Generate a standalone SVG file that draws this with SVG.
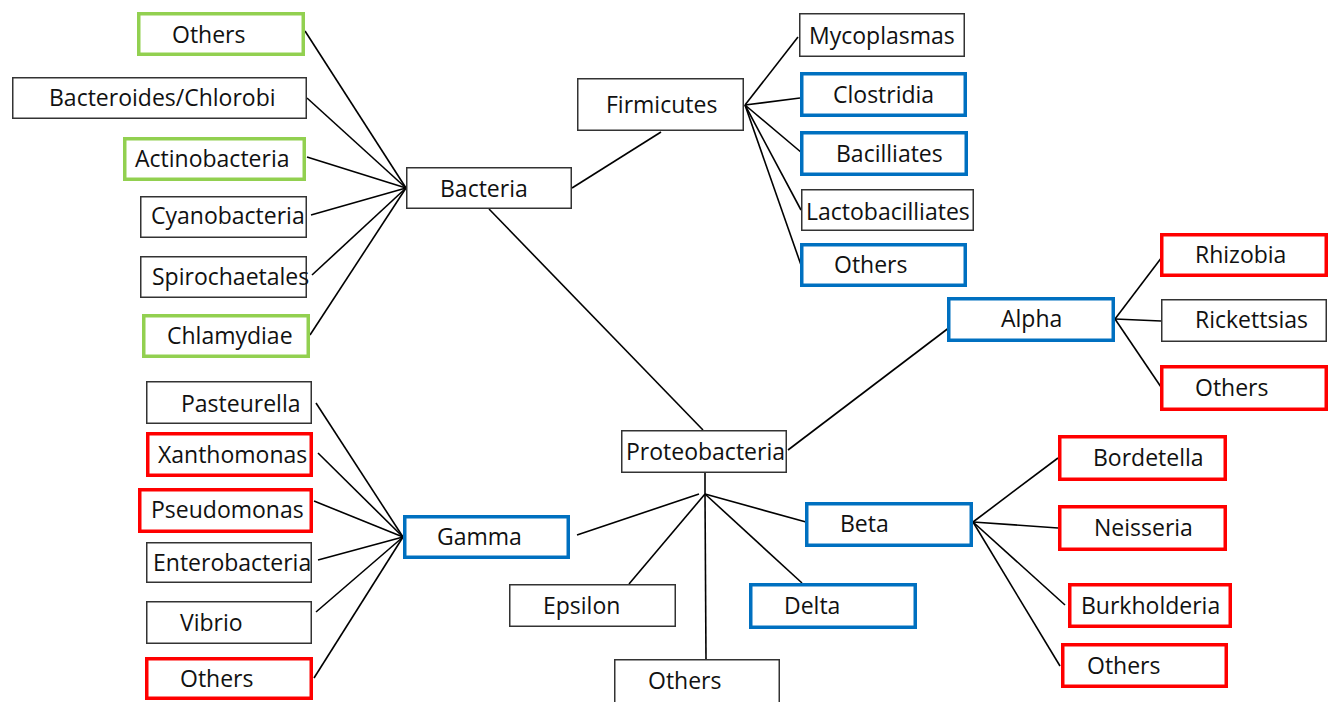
<svg xmlns="http://www.w3.org/2000/svg" width="1335" height="702" viewBox="0 0 1335 702">
<style>
rect{fill:#fff}
.k{stroke:#333;stroke-width:1.5}
.g{stroke:#92d050;stroke-width:3.5}
.b{stroke:#0070c0;stroke-width:3.5}
.r{stroke:#ff0000;stroke-width:3.5}
text{font-family:"Open Sans","Liberation Sans",sans-serif;font-size:23px;fill:#111}
#connectors line{stroke:#000;stroke-width:1.6}
</style>
<rect x="0" y="0" width="1335" height="702" fill="#fff"/>
<g id="connectors">
<line x1="406" y1="188" x2="305" y2="31"/>
<line x1="406" y1="188" x2="307" y2="98"/>
<line x1="406" y1="188" x2="307" y2="157"/>
<line x1="406" y1="188" x2="311" y2="215"/>
<line x1="406" y1="188" x2="312" y2="275"/>
<line x1="406" y1="188" x2="310" y2="335"/>
<line x1="572" y1="188" x2="661" y2="132"/>
<line x1="489" y1="209" x2="703" y2="430"/>
<line x1="745" y1="105" x2="798" y2="37"/>
<line x1="745" y1="105" x2="800" y2="98"/>
<line x1="745" y1="105" x2="802" y2="153"/>
<line x1="745" y1="105" x2="801" y2="210"/>
<line x1="745" y1="105" x2="801" y2="265"/>
<line x1="788" y1="450" x2="950" y2="327"/>
<line x1="1115" y1="319" x2="1162" y2="257"/>
<line x1="1115" y1="319" x2="1161" y2="321"/>
<line x1="1115" y1="319" x2="1161" y2="387"/>
<line x1="705" y1="473" x2="705" y2="494"/>
<line x1="699" y1="494" x2="577" y2="535"/>
<line x1="705" y1="494" x2="629" y2="584"/>
<line x1="705" y1="494" x2="706" y2="659"/>
<line x1="705" y1="494" x2="802" y2="583"/>
<line x1="705" y1="494" x2="806" y2="522"/>
<line x1="403" y1="537" x2="316" y2="403"/>
<line x1="403" y1="537" x2="318" y2="453"/>
<line x1="403" y1="537" x2="314" y2="501"/>
<line x1="403" y1="537" x2="318" y2="560"/>
<line x1="403" y1="537" x2="316" y2="612"/>
<line x1="403" y1="537" x2="314" y2="678"/>
<line x1="973" y1="522" x2="1058" y2="458"/>
<line x1="973" y1="522" x2="1058" y2="528"/>
<line x1="973" y1="522" x2="1065" y2="605"/>
<line x1="973" y1="522" x2="1060" y2="666"/>
</g>
<g id="bact-others"><rect class="g" x="138.75" y="13.75" width="164.5" height="40.5"/><text x="172" y="43">Others</text></g>
<g id="bacteroides"><rect class="k" x="12.75" y="77.75" width="293.5" height="40.5"/><text x="49" y="106">Bacteroides/Chlorobi</text></g>
<g id="actinobacteria"><rect class="g" x="124.75" y="138.75" width="179.5" height="40.5"/><text x="135" y="167">Actinobacteria</text></g>
<g id="cyanobacteria"><rect class="k" x="140.75" y="196.75" width="165.5" height="40.5"/><text x="151" y="224">Cyanobacteria</text></g>
<g id="spirochaetales"><rect class="k" x="140.75" y="256.75" width="165.5" height="40.5"/><text x="152" y="285">Spirochaetales</text></g>
<g id="chlamydiae"><rect class="g" x="143.75" y="315.75" width="164.5" height="40.5"/><text x="167" y="344">Chlamydiae</text></g>
<g id="bacteria"><rect class="k" x="406.75" y="167.75" width="164.5" height="40.5"/><text x="440" y="197">Bacteria</text></g>
<g id="firmicutes"><rect class="k" x="577.75" y="78.75" width="165.5" height="51.5"/><text x="606" y="113">Firmicutes</text></g>
<g id="mycoplasmas"><rect class="k" x="799.75" y="13.75" width="164.5" height="42.5"/><text x="809" y="44">Mycoplasmas</text></g>
<g id="clostridia"><rect class="b" x="801.75" y="73.75" width="163.5" height="41.5"/><text x="833" y="103">Clostridia</text></g>
<g id="bacilliates"><rect class="b" x="801.75" y="132.75" width="164.5" height="41.5"/><text x="836" y="162">Bacilliates</text></g>
<g id="lactobacilliates"><rect class="k" x="801.75" y="189.75" width="171.5" height="40.5"/><text x="806" y="220">Lactobacilliates</text></g>
<g id="firm-others"><rect class="b" x="801.75" y="244.75" width="163.5" height="40.5"/><text x="834" y="273">Others</text></g>
<g id="alpha"><rect class="b" x="948.75" y="298.75" width="164.5" height="41.5"/><text x="1001" y="327">Alpha</text></g>
<g id="rhizobia"><rect class="r" x="1161.75" y="234.75" width="164.5" height="40.5"/><text x="1195" y="263">Rhizobia</text></g>
<g id="rickettsias"><rect class="k" x="1161.75" y="299.75" width="164.5" height="41.5"/><text x="1195" y="328">Rickettsias</text></g>
<g id="alpha-others"><rect class="r" x="1161.75" y="366.75" width="164.5" height="42.5"/><text x="1195" y="396">Others</text></g>
<g id="pasteurella"><rect class="k" x="146.75" y="381.75" width="164.5" height="41.5"/><text x="181" y="412">Pasteurella</text></g>
<g id="xanthomonas"><rect class="r" x="147.75" y="433.75" width="163.5" height="41.5"/><text x="158" y="463">Xanthomonas</text></g>
<g id="pseudomonas"><rect class="r" x="139.75" y="489.75" width="171.5" height="41.5"/><text x="151" y="518">Pseudomonas</text></g>
<g id="enterobacteria"><rect class="k" x="146.75" y="542.75" width="164.5" height="39.5"/><text x="153" y="571">Enterobacteria</text></g>
<g id="vibrio"><rect class="k" x="146.75" y="601.75" width="164.5" height="41.5"/><text x="180" y="631">Vibrio</text></g>
<g id="gamma-others"><rect class="r" x="146.75" y="658.75" width="164.5" height="39.5"/><text x="180" y="687">Others</text></g>
<g id="gamma"><rect class="b" x="404.75" y="516.75" width="163.5" height="40.5"/><text x="437" y="545">Gamma</text></g>
<g id="proteobacteria"><rect class="k" x="621.75" y="430.75" width="164.5" height="41.5"/><text x="626" y="460">Proteobacteria</text></g>
<g id="epsilon"><rect class="k" x="509.75" y="584.75" width="165.5" height="41.5"/><text x="543" y="614">Epsilon</text></g>
<g id="proteo-others"><rect class="k" x="614.75" y="659.75" width="164.5" height="50"/><text x="648" y="689">Others</text></g>
<g id="delta"><rect class="b" x="750.75" y="584.75" width="164.5" height="42.5"/><text x="784" y="614">Delta</text></g>
<g id="beta"><rect class="b" x="806.75" y="503.75" width="164.5" height="41.5"/><text x="840" y="532">Beta</text></g>
<g id="bordetella"><rect class="r" x="1059.75" y="436.75" width="165.5" height="42.5"/><text x="1093" y="466">Bordetella</text></g>
<g id="neisseria"><rect class="r" x="1059.75" y="506.75" width="165.5" height="42.5"/><text x="1094" y="536">Neisseria</text></g>
<g id="burkholderia"><rect class="r" x="1069.75" y="584.75" width="160.5" height="41.5"/><text x="1081" y="614">Burkholderia</text></g>
<g id="beta-others"><rect class="r" x="1062.75" y="644.75" width="163.5" height="41.5"/><text x="1087" y="674">Others</text></g>
</svg>
